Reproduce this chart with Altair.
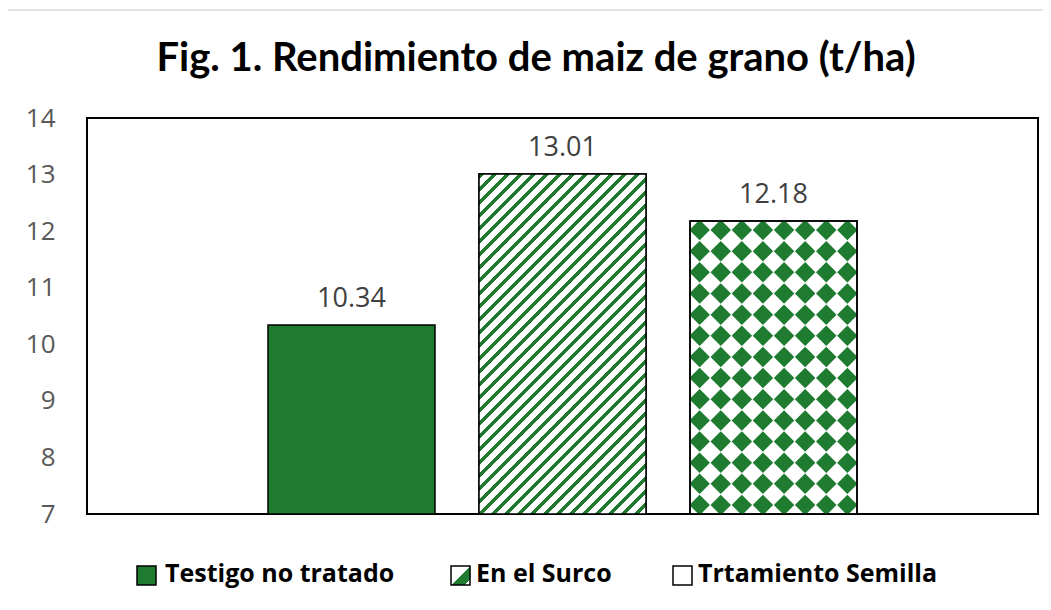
import altair as alt
import numpy as np
import pandas as pd

# ---- data ----
categories = ["Testigo no tratado", "En el Surco", "Trtamiento Semilla"]
values = [10.34, 13.01, 12.18]
positions = [1, 2, 3]
y_ticks = [7, 8, 9, 10, 11, 12, 13, 14]
title_text = "Fig. 1. Rendimiento de maiz de grano (t/ha)"

# ---- style / layout ----
GREEN = "#1E7B30"
FONT = "Open Sans"
TITLE_FONT = "Lato"
PLOT_W, PLOT_H = 951, 396
Y_MIN, Y_MAX = 7, 14
STEP_PX = 211.0      # distance between bar centres
BAR_PX = 167.0       # bar width
x_half = PLOT_W / STEP_PX / 2
X_DOMAIN = [2 - x_half, 2 + x_half]
HW = BAR_PX / STEP_PX / 2
PX_PER_UNIT = PLOT_H / (Y_MAX - Y_MIN)

# legend / title layout (pixels relative to the plot origin)
LEG_SYM_X = [50, 364, 586]
LEG_TXT_X = [78, 389, 611]
LEG_SYM_Y = 448
LEG_SYM = 19
LEG_TXT_Y = 464
TITLE_X, TITLE_Y = 449, -47

df = pd.DataFrame({"cat": categories, "value": values, "idx": positions})
df["x0"] = df["idx"] - HW
df["x1"] = df["idx"] + HW
df["label"] = df["value"].map(lambda v: f"{v:.2f}")


def stripe_gradient(w, h, period=13.0, frac=0.45):
    r = h / w
    L = w * (1 + r * r)
    stops = []
    k = 0
    while k * period / L <= 1:
        a = k * period / L
        b = min((k + frac) * period / L, 1)
        c = min((k + 1) * period / L, 1)
        stops += [
            {"offset": a, "color": GREEN},
            {"offset": b, "color": GREEN},
            {"offset": b, "color": "white"},
            {"offset": c, "color": "white"},
        ]
        k += 1
    return {"gradient": "linear", "x1": 0, "y1": 0, "x2": 1, "y2": r, "stops": stops}


surco_val = values[1]
surco_grad = stripe_gradient(BAR_PX, (surco_val - Y_MIN) * PX_PER_UNIT)

# diamond pattern for the third bar
D_PITCH_X, D_PITCH_Y, D_SIZE = 21.1, 21.15, 420
semilla_val = values[2]
rows = []
k = 0
while True:
    yv = Y_MIN + (9 + D_PITCH_Y * k) / PX_PER_UNIT
    if yv + 7 / PX_PER_UNIT > semilla_val:
        break
    for j in range(8):
        rows.append({"px": positions[2] + (j - 3.5) * D_PITCH_X / STEP_PX, "py": yv})
    k += 1
diamonds = pd.DataFrame(rows)

legend_grad = {
    "gradient": "linear", "x1": 0, "y1": 0, "x2": 1, "y2": 1,
    "stops": [
        {"offset": 0, "color": "white"}, {"offset": 0.52, "color": "white"},
        {"offset": 0.52, "color": GREEN}, {"offset": 0.85, "color": GREEN},
        {"offset": 0.85, "color": "white"}, {"offset": 1, "color": "white"},
    ],
}
legend_fills = [GREEN, legend_grad, "white"]

xscale = alt.Scale(domain=X_DOMAIN, nice=False, zero=False)
yscale = alt.Scale(domain=[Y_MIN, Y_MAX], nice=False, zero=False)
yaxis = alt.Axis(values=y_ticks, grid=False, domain=False, ticks=False, labelPadding=32,
                 labelFont=FONT, labelFontSize=26, labelColor="#595959", title=None)

one = alt.Data(values=[{}])

border = alt.Chart(one).mark_rect(
    fillOpacity=0, stroke="#D9D9D9", strokeWidth=1.5
).encode(x=alt.value(-80), x2=alt.value(1000), y=alt.value(-108), y2=alt.value(560))

title = alt.Chart(one).mark_text(
    text=title_text, align="center", baseline="alphabetic", font=TITLE_FONT, fontSize=40,
    fontWeight="bold", color="black"
).encode(x=alt.value(TITLE_X), y=alt.value(TITLE_Y))

base = alt.Chart(df)


def bar_enc(ch):
    return ch.encode(
        x=alt.X("x0:Q", scale=xscale, axis=None),
        x2="x1:Q",
        y=alt.Y("value:Q", scale=yscale, axis=yaxis),
        y2=alt.datum(Y_MIN),
    )


bars = bar_enc(base.mark_rect(stroke="black", strokeWidth=1.5)).encode(
    fill=alt.Fill("cat:N", scale=alt.Scale(domain=categories, range=[GREEN, "white", "white"]),
                  legend=None),
)

surco = bar_enc(base.transform_filter(alt.datum.cat == categories[1]).mark_rect(
    fill=surco_grad, stroke="black", strokeWidth=1.5))

dots = alt.Chart(diamonds).mark_point(
    shape="diamond", filled=True, color=GREEN, size=D_SIZE, opacity=1, strokeWidth=0
).encode(
    x=alt.X("px:Q", scale=xscale, axis=None),
    y=alt.Y("py:Q", scale=yscale, axis=yaxis),
)

semilla_edge = bar_enc(base.transform_filter(alt.datum.cat == categories[2]).mark_rect(
    fillOpacity=0, stroke="black", strokeWidth=1.5))

labels = base.mark_text(dy=-18, baseline="alphabetic", fontSize=27, font=FONT,
                        color="#404040").encode(
    x=alt.X("idx:Q", scale=xscale, axis=None),
    y=alt.Y("value:Q", scale=yscale, axis=yaxis),
    text="label:N",
)

legend_layers = []
for i, cat in enumerate(categories):
    legend_layers.append(
        alt.Chart(one).mark_rect(fill=legend_fills[i], stroke="black", strokeWidth=1.5).encode(
            x=alt.value(LEG_SYM_X[i]), x2=alt.value(LEG_SYM_X[i] + LEG_SYM),
            y=alt.value(LEG_SYM_Y), y2=alt.value(LEG_SYM_Y + LEG_SYM),
        )
    )
    legend_layers.append(
        alt.Chart(one).mark_text(
            text=cat, align="left", baseline="alphabetic", font=FONT, fontSize=25,
            fontWeight="bold", color="black"
        ).encode(x=alt.value(LEG_TXT_X[i]), y=alt.value(LEG_TXT_Y))
    )

chart = alt.layer(border, title, bars, surco, dots, semilla_edge, labels,
                  *legend_layers).properties(
    width=PLOT_W,
    height=PLOT_H,
    autosize=alt.AutoSizeParams(type="none"),
    padding={"left": 79, "top": 110, "right": 5, "bottom": 88},
    background="white",
).configure_view(stroke="black", strokeWidth=2)

chart.save("out.html", embed_options={"renderer": "svg", "actions": False})
